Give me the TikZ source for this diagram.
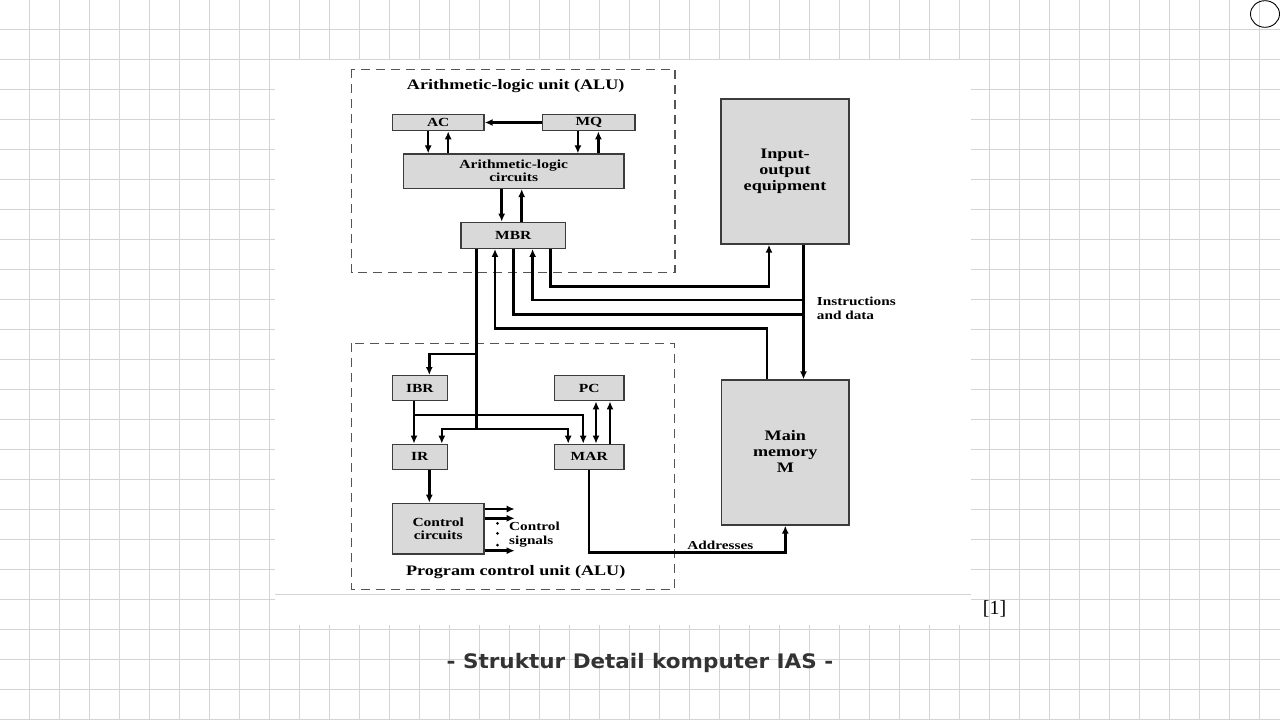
\documentclass[tikz,border=0pt]{standalone}
\usepackage{fontspec}
\usepackage{tikz}
\usetikzlibrary{arrows.meta,calc}

\newfontfamily\figfont[FakeStretch=1.25]{Liberation Serif}
\newfontfamily\refsfont{Liberation Serif}
\newfontfamily\capfont[FakeStretch=1.075]{DejaVu Sans}

\definecolor{gridline}{RGB}{212,212,212}
\definecolor{boxfill}{RGB}{217,217,217}
\definecolor{boxline}{RGB}{60,60,60}
\definecolor{unitline}{RGB}{85,85,85}
\definecolor{captext}{RGB}{51,51,51}

\tikzset{
  reg/.style={draw=boxline,fill=boxfill,line width=1.3pt,inner sep=0pt,
    font=\figfont\bfseries\fontsize{12.4}{13}\selectfont},
  bigreg/.style={reg,align=center,font=\figfont\bfseries\fontsize{14.5}{16}\selectfont},
  lbl/.style={inner sep=0pt,font=\figfont\bfseries\fontsize{12.2}{14}\selectfont},
  unitlbl/.style={inner sep=0pt,font=\figfont\bfseries\fontsize{14.5}{16}\selectfont},
  unitframe/.style={draw=unitline,line width=1.3pt,dash pattern=on 9pt off 6pt},
  wire/.style={line width=2.5pt},
  >={Latex[length=8pt,width=7pt]}
}

\begin{document}
\begin{tikzpicture}[x=1pt,y=-1pt]
  \useasboundingbox (0,0) rectangle (1280,720);

  % grid paper
  \foreach \k in {0,...,41}
    \draw[gridline,line width=1.4pt] (29.3+30*\k,0) -- (29.3+30*\k,720);
  \foreach \k in {0,...,23}
    \draw[gridline,line width=1.4pt] (0,29.3+30*\k) -- (1280,29.3+30*\k);
  \fill[white] (275,60) rectangle (971,625);
  \draw[gridline,line width=0.8pt] (275,594) -- (971,594);
  \draw[line width=0.9pt] (1265,14) ellipse (14.5pt and 13.3pt);

  % units
  \draw[unitframe] (351.7,69.3) rectangle (675,272.7);
  \draw[unitframe] (351.7,343.3) rectangle (674.3,589.3);
  \node[unitlbl] (alulbl) at (515.7,86.5) {Arithmetic-logic unit (ALU)};
  \node[unitlbl] (pculbl) at (515.7,572) {Program control unit (ALU)};

  % registers
  \node[reg,minimum width=91.7pt,minimum height=16.4pt] (ac) at (438.2,122.5) {AC};
  \node[reg,minimum width=92.3pt,minimum height=16.4pt] (mq) at (588.9,122.5) {MQ};
  \node[reg,align=center,minimum width=220.7pt,minimum height=34.3pt] (alc) at (513.7,171.2) {Arithmetic-logic\\circuits};
  \node[reg,minimum width=104.7pt,minimum height=26pt] (mbr) at (513.3,235.3) {MBR};
  \node[reg,minimum width=55pt,minimum height=25pt] (ibr) at (419.8,388.2) {IBR};
  \node[reg,minimum width=69.7pt,minimum height=25pt] (pc) at (589.2,388.2) {PC};
  \node[reg,minimum width=55pt,minimum height=25pt] (ir) at (419.8,456.8) {IR};
  \node[reg,minimum width=69.7pt,minimum height=25pt] (mar) at (589.2,456.8) {MAR};
  \node[reg,align=center,minimum width=91.7pt,minimum height=50.7pt] (cc) at (438.2,528.7) {Control\\circuits};
  \node[bigreg,minimum width=128pt,minimum height=145pt] (io) at (785,171.5) {Input-\\output\\equipment};
  \node[bigreg,minimum width=127.3pt,minimum height=145pt,text depth=3pt] (mm) at (785.3,452.5) {Main\\memory\\M};

  % bends
  \coordinate (toio) at (769,286.7);
  \coordinate (frio) at (803.5,300);
  \coordinate (tomm) at (803.5,314.3);
  \coordinate (frmm) at (767,328.3);
  \coordinate (toibr) at (476.7,354);
  \coordinate (split) at (476.7,429);
  \coordinate (ibrsplit) at (414,415);
  \coordinate (addr) at (785.3,552.7);

  % ALU paths
  \draw[wire,->] (mq.west) -- (ac.east);
  \draw[wire,->] ([xshift=-10pt]ac.south) -- ([xshift=-10pt]ac.south |- alc.north);
  \draw[wire,<-] ([xshift=10pt]ac.south) -- ([xshift=10pt]ac.south |- alc.north);
  \draw[wire,->] ([xshift=-11pt]mq.south) -- ([xshift=-11pt]mq.south |- alc.north);
  \draw[wire,<-] ([xshift=9.5pt]mq.south) -- ([xshift=9.5pt]mq.south |- alc.north);
  \draw[wire,->] ([xshift=-11.6pt]mbr.north |- alc.south) -- ([xshift=-11.6pt]mbr.north);
  \draw[wire,<-] ([xshift=8.4pt]mbr.north |- alc.south) -- ([xshift=8.4pt]mbr.north);

  % MBR to I/O and memory
  \draw[wire,->] ([xshift=37.3pt]mbr.south) |- (toio) -- (io.south -| toio);
  \draw[wire,->] (io.south -| frio) -- (mm.north -| frio);
  \draw[wire,->] (frio) -| ([xshift=19.3pt]mbr.south);
  \draw[wire] (mbr.south) |- (tomm);
  \draw[wire,->] (mm.north -| frmm) -- (frmm) -| ([xshift=-18.3pt]mbr.south);
  \node[lbl,anchor=west,align=left] (instr) at (816.7,308.5) {Instructions\\and data};

  % program control
  \draw[wire] ([xshift=-36.6pt]mbr.south) -- (split);
  \draw[wire,->] (toibr) -| ([xshift=9.5pt]ibr.north);
  \draw[wire,->] (split) -| ([xshift=22pt]ir.north);
  \draw[wire,->] (split) -| ([xshift=-21pt]mar.north);
  \draw[wire,->] ([xshift=-5.8pt]ibr.south) -- ([xshift=-5.8pt]ir.north);
  \draw[wire,->] (ibrsplit) -| ([xshift=-6pt]mar.north);
  \draw[wire,<->] ([xshift=6.8pt]mar.north) -- ([xshift=6.8pt]pc.south);
  \draw[wire,->] ([xshift=20.8pt]mar.north) -- ([xshift=20.8pt]pc.south);
  \draw[wire,->] ([xshift=9.5pt]ir.south) -- ([xshift=9.5pt]ir.south |- cc.north);
  \foreach \dy in {19.7,10.4,-22}
    \draw[wire,->] ([yshift=\dy pt]cc.east) -- ++(30,0);
  \foreach \y in {523.3,533.3,545}
    \fill (497.5,\y) circle (1.5pt);
  \node[lbl,anchor=west,align=left] (ctrlsig) at (509,534.5) {Control\\signals};

  \draw[wire,->] (mar.south) |- (addr) -- (mm.south);
  \node[lbl] (addrlbl) at (720.3,545.5) {Addresses};

  % caption
  \node[font=\refsfont\fontsize{20}{22}\selectfont] (ref) at (994.5,609) {[1]};
  \node[font=\capfont\bfseries\fontsize{20}{22}\selectfont,text=captext] (caption) at (640,663) {- Struktur Detail komputer IAS -};
\end{tikzpicture}
\end{document}
